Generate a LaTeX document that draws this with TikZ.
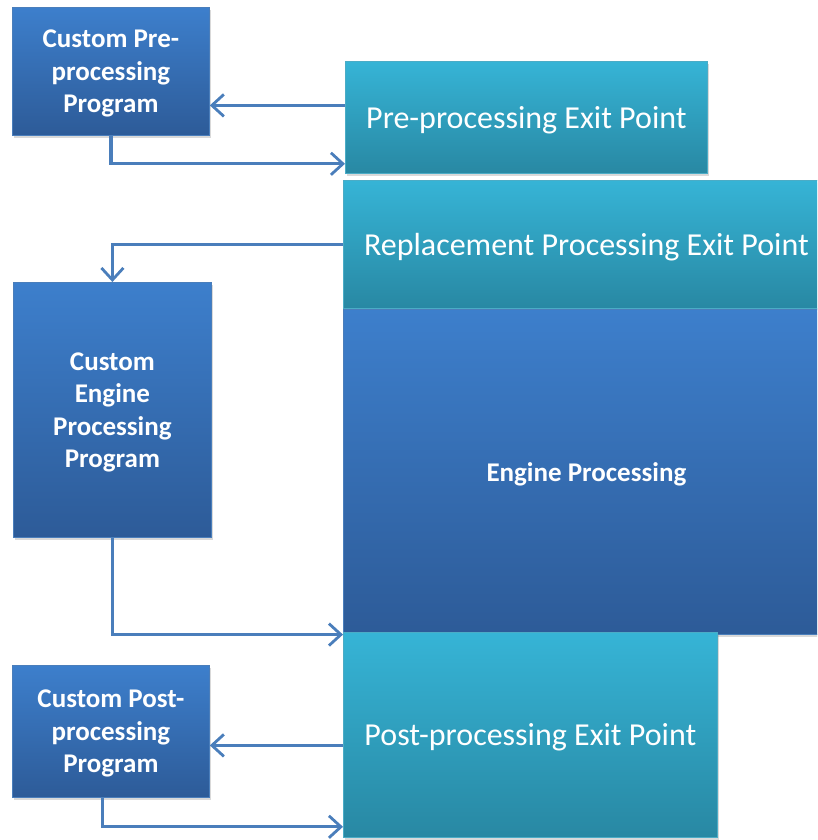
\documentclass[tikz,border=0pt]{standalone}
\usepackage{fontspec}
\setmainfont{Carlito}
\usepackage{tikz}
\usetikzlibrary{shapes,arrows.meta,positioning,shadows}
\definecolor{progtop}{RGB}{61,127,204}
\definecolor{progbot}{RGB}{45,91,152}
\definecolor{progline}{RGB}{74,126,187}
\definecolor{exittop}{RGB}{54,180,214}
\definecolor{exitbot}{RGB}{40,136,163}
\definecolor{exitline}{RGB}{75,172,198}
\definecolor{flow}{RGB}{74,126,187}
\tikzstyle{prog} = [rectangle, draw=progline, line width=0.8pt, top color=progtop, bottom color=progbot, text=white, align=center, font=\fontsize{27}{32.5}\selectfont\bfseries, inner sep=0pt, text depth=0pt, anchor=north west, drop shadow={opacity=0.3, shadow xshift=2pt, shadow yshift=-3pt}]
\tikzstyle{exitpt} = [rectangle, draw=exitline, line width=0.8pt, top color=exittop, bottom color=exitbot, text=white, align=center, font=\fontsize{32}{38}\selectfont, inner sep=0pt, text depth=0pt, anchor=north west, drop shadow={opacity=0.3, shadow xshift=2pt, shadow yshift=-3pt}]
\tikzstyle{tedge}  = [draw=flow, line width=3.2pt, -{Straight Barb[length=12pt, width=22pt, line width=2.8pt]}]

\begin{document}
\begin{tikzpicture}[x=1pt, y=-1pt]
\clip (0,0) rectangle (817,840);

% boxes ==================================

% top row
\node[prog, minimum width=197pt, minimum height=128pt] (custompre) at (12,7) {Custom Pre-\\processing\\Program};
\node[exitpt, minimum width=362pt, minimum height=112pt] (preexit) at (345,61) {Pre-processing Exit Point};

% middle
\node[exitpt, minimum width=486pt, minimum height=128pt] (repl) at (343,180) {Replacement Processing Exit Point};
\node[prog, minimum width=486pt, minimum height=325pt, below right=0pt and 0pt of repl.south west] (engine) {Engine Processing};
\node[prog, minimum width=198pt, minimum height=255pt] (customengine) at (13,282) {Custom\\Engine\\Processing\\Program};

% bottom row
\node[exitpt, minimum width=374pt, minimum height=205pt] (postexit) at (343,632) {Post-processing Exit Point};
\node[prog, minimum width=197pt, minimum height=132pt] (custompost) at (12,665) {Custom Post-\\processing\\Program};

% edges ==================================
\coordinate (a1) at ([yshift=12pt]preexit.west);
\path[tedge] (a1) -- (a1 -| custompre.east);
\path[tedge] (custompre.south) |- ([yshift=10pt]preexit.south west);

\path[tedge] (repl.west) -| (customengine.north);
\path[tedge] (customengine.south) |- (engine.south west);

\coordinate (a2) at ([yshift=-10.5pt]postexit.west);
\path[tedge] (a2) -- (a2 -| custompost.east);
\path[tedge] ([xshift=-8.5pt]custompost.south) |- ([yshift=11pt]postexit.south west);

\end{tikzpicture}
\end{document}
